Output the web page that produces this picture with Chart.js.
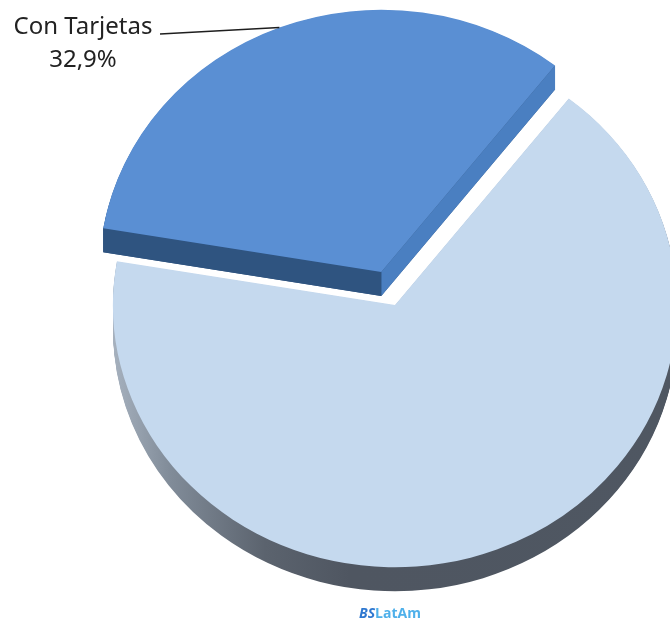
<!DOCTYPE html>
<html><head><meta charset="utf-8">
<script src="https://cdn.jsdelivr.net/npm/chart.js@4.4.1/dist/chart.umd.min.js"></script>
<style>html,body{margin:0;padding:0;background:#fff;overflow:hidden}#wrap{width:670px;height:625px;position:relative}</style>
</head><body><div id="wrap"><canvas id="c" width="670" height="625"></canvas></div>
<script>
const categories = ['Con Tarjetas', 'Sin Tarjetas'];
const shares = [32.9, 67.1];
const shareLabels = ['32,9%', '67,1%'];
const topColors = ['#5a8fd3', '#c5d9ee'];
const explode = [38, 0];

const SY = 0.93, DEPTH = 24;

function geometry(chart) {
  const arcs = chart.getDatasetMeta(0).data;
  return arcs.map((arc, i) => {
    const p = arc.getProps(['x', 'y', 'startAngle', 'endAngle', 'outerRadius'], true);
    const mid = (p.startAngle + p.endAngle) / 2;
    return Object.assign({}, p, {arc, mid, ox: p.x + Math.cos(mid) * explode[i], oy: p.y + Math.sin(mid) * explode[i]});
  });
}

const pie3d = {
  id: 'pie3d',
  beforeDatasetsDraw(chart) {
    const ctx = chart.ctx;
    const geo = geometry(chart);
    const cx = geo[0].x, cy = geo[0].y;
    const dz = DEPTH / SY;
    ctx.save();
    ctx.translate(cx, cy); ctx.scale(1, SY); ctx.translate(-cx, -cy);
    // curved sides
    geo.forEach((g, i) => {
      let fill;
      if (i === 1) {
        const gr = ctx.createLinearGradient(g.ox - g.outerRadius, 0, g.ox + g.outerRadius, 0);
        gr.addColorStop(0, '#a6b1be');
        gr.addColorStop(0.1, '#818c99');
        gr.addColorStop(0.27, '#5b636e');
        gr.addColorStop(0.42, '#4f5661');
        gr.addColorStop(1, '#4f5762');
        fill = gr;
      } else fill = '#2f5480';
      ctx.fillStyle = fill;
      for (let d = dz; d > 0; d -= 1) {
        ctx.beginPath();
        ctx.moveTo(g.ox, g.oy + d);
        ctx.arc(g.ox, g.oy + d, g.outerRadius, g.startAngle, g.endAngle);
        ctx.closePath();
        ctx.fill();
      }
    });
    // radial faces of the exploded slice
    const g = geo[0];
    [[g.endAngle, '#4a7fc1'], [g.startAngle, '#2f5480']].forEach(([a, col]) => {
      const px = g.ox + Math.cos(a) * g.outerRadius, py = g.oy + Math.sin(a) * g.outerRadius;
      ctx.beginPath();
      ctx.moveTo(g.ox, g.oy); ctx.lineTo(px, py); ctx.lineTo(px, py + dz); ctx.lineTo(g.ox, g.oy + dz);
      ctx.closePath(); ctx.fillStyle = col; ctx.fill();
    });
    // top faces
    [1, 0].forEach(i => {
      const q = geo[i];
      ctx.save();
      ctx.translate(q.ox - q.x, q.oy - q.y);
      q.arc.draw(ctx);
      ctx.restore();
    });
    ctx.restore();
    return false;
  },
  afterDraw(chart) {
    const ctx = chart.ctx;
    const geo = geometry(chart);
    const g = geo[0];
    const cy = g.y;
    const ax = g.ox + Math.cos(g.mid) * g.outerRadius;
    const ay = cy + (g.oy + Math.sin(g.mid) * g.outerRadius - cy) * SY;
    ctx.save();
    ctx.strokeStyle = '#1e1e1e';
    ctx.lineWidth = 1.5;
    ctx.beginPath();
    ctx.moveTo(160, 34); ctx.lineTo(ax, ay);
    ctx.stroke();
    ctx.fillStyle = '#222';
    ctx.font = '24px "Noto Sans"';
    ctx.textAlign = 'center';
    ctx.textBaseline = 'alphabetic';
    ctx.fillText(categories[0], 83, 34);
    ctx.fillText(shareLabels[0], 83, 67);
    // watermark
    ctx.textAlign = 'left';
    ctx.font = 'italic bold 14px "Open Sans"';
    ctx.fillStyle = '#2f78d0';
    const x0 = 359;
    ctx.fillText('BS', x0, 618);
    const w = ctx.measureText('BS').width;
    ctx.font = 'bold 14px "Open Sans"';
    ctx.fillStyle = '#4fb0ea';
    ctx.fillText('LatAm', x0 + w, 618);
    ctx.restore();
  }
};

new Chart(document.getElementById('c'), {
  type: 'pie',
  data: {
    labels: categories,
    datasets: [{
      data: shares,
      backgroundColor: topColors,
      borderWidth: 0,
      offset: 0,
      clip: false
    }]
  },
  options: {
    responsive: false,
    animation: false,
    rotation: -80.4,
    radius: 282,
    layout: {padding: {left: 120, right: 0, top: 0, bottom: 15}},
    plugins: {legend: {display: false}, tooltip: {enabled: false}}
  },
  plugins: [pie3d]
});
</script></body></html>
